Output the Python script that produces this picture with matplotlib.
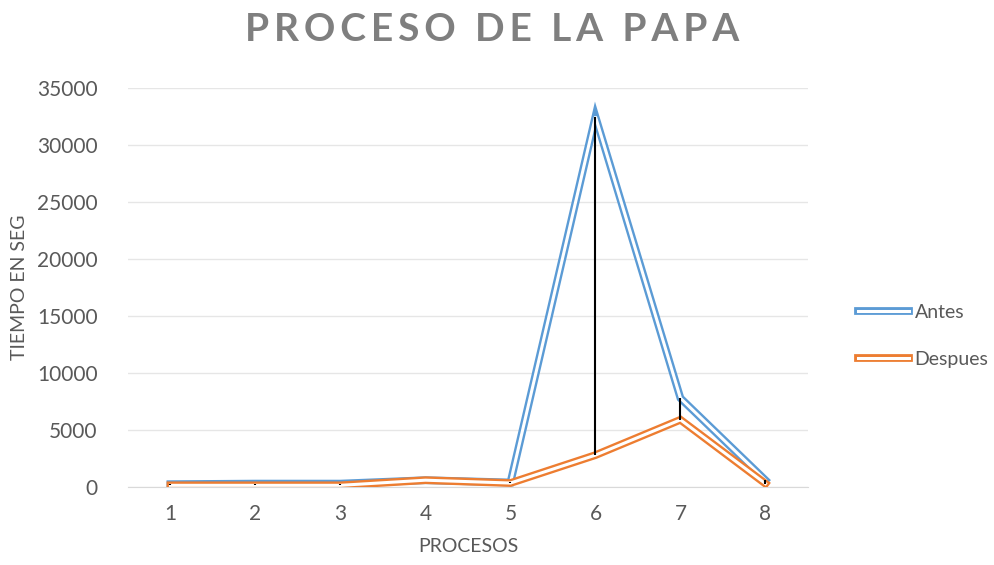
import matplotlib.pyplot as plt
from matplotlib.lines import Line2D
from matplotlib.legend_handler import HandlerTuple

procesos = [1, 2, 3, 4, 5, 6, 7, 8]
antes = [250, 300, 300, 600, 400, 32500, 7800, 600]
despues = [150, 150, 150, 600, 350, 2800, 5900, 300]

BLUE = '#5B9BD5'
ORANGE = '#ED7D31'
TXT = '#595959'

plt.rcParams['font.family'] = ['Lato', 'DejaVu Sans']

fig = plt.figure(figsize=(9.95, 5.65), dpi=100)
ax = fig.add_axes([0.1286, 0.138, 0.6834, 0.706])


def double_line(x, y, color, z):
    # excel "double" compound line: thick coloured stroke with white core
    ax.plot(x, y, color=color, lw=5.6, zorder=z, solid_joinstyle='miter')
    ax.plot(x, y, color='white', lw=2.2, zorder=z + 0.1, solid_joinstyle='miter')


double_line(procesos, antes, BLUE, 3)
double_line(procesos, despues, ORANGE, 4)

# high-low lines between the two series
lo = [min(a, d) for a, d in zip(antes, despues)]
hi = [max(a, d) for a, d in zip(antes, despues)]
ax.vlines(procesos, lo, hi, color='black', lw=1.5, zorder=5)

ax.set_xlim(0.5, 8.5)
ax.set_ylim(0, 35000)
ax.set_yticks(range(0, 35001, 5000))
ax.set_xticks(procesos)
ax.grid(axis='y', color='#E6E6E6', lw=1)
ax.set_axisbelow(True)
for s in ['top', 'right', 'left']:
    ax.spines[s].set_visible(False)
ax.spines['bottom'].set_color('#D9D9D9')
ax.tick_params(length=0, labelsize=15, labelcolor=TXT)
ax.tick_params(axis='y', pad=22)
ax.tick_params(axis='x', pad=12)

ax.set_xlabel('PROCESOS', fontsize=14, color=TXT, labelpad=10)
ax.set_ylabel('TIEMPO EN SEG', fontsize=14, color=TXT, labelpad=6)

fig.text(0.495, 0.948, '\u2009'.join('PROCESO DE LA PAPA'), ha='center', va='center',
         fontsize=28, fontweight='bold', color='#7F7F7F')

h_a = (Line2D([], [], color=BLUE, lw=5.6), Line2D([], [], color='white', lw=2.2))
h_d = (Line2D([], [], color=ORANGE, lw=5.6), Line2D([], [], color='white', lw=2.2))
fig.legend([h_a, h_d], ['Antes', 'Despues'], handler_map={tuple: HandlerTuple(ndivide=1)},
           loc='center left', bbox_to_anchor=(0.845, 0.406), frameon=False,
           fontsize=14, labelcolor=TXT, handlelength=2.6, labelspacing=1.55, handletextpad=0.3)

fig.savefig('out.png', dpi=100)
